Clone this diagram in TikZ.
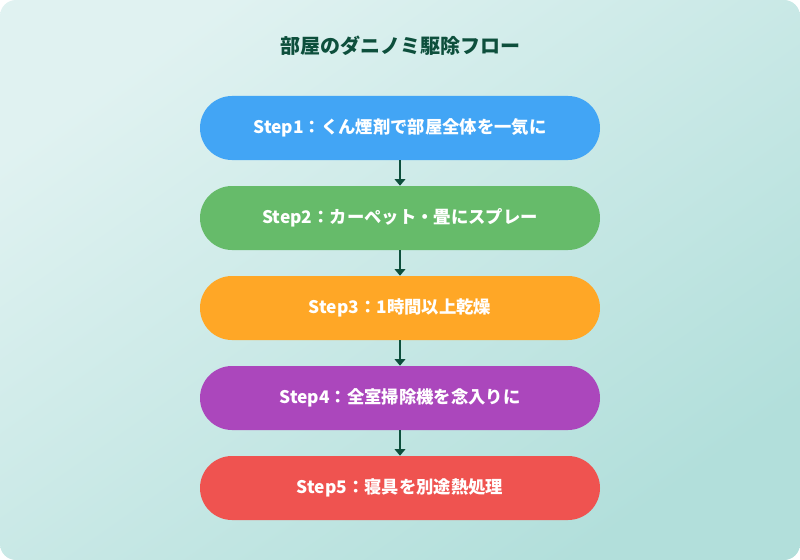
\documentclass[tikz,border=0pt]{standalone}
\usepackage{fontspec}
\setmainfont{Noto Sans CJK JP}
\usetikzlibrary{positioning,arrows.meta}
\definecolor{bgA}{HTML}{E0F2F1}
\definecolor{bgB}{HTML}{B2DFDB}
\definecolor{titlec}{HTML}{0D4F3C}
\definecolor{stepA}{HTML}{42A5F5}
\definecolor{stepB}{HTML}{66BB6A}
\definecolor{stepC}{HTML}{FFA726}
\definecolor{stepD}{HTML}{AB47BC}
\definecolor{stepE}{HTML}{EF5350}
\tikzset{
  stepbox/.style={rounded corners=24pt, minimum width=300pt, minimum height=48pt,
    text=white, font=\bfseries\fontsize{13}{15}\selectfont, inner sep=0pt},
  flow/.style={-{Triangle[width=8pt,length=5pt]}, line width=2.2pt, draw=titlec}
}

\begin{document}
\begin{tikzpicture}[x=0.75pt,y=-0.75pt]
\shade[rounded corners=12pt, left color=bgA, right color=bgB, shading angle=35]
  (0,0) rectangle (800,560);
\useasboundingbox (0,0) rectangle (800,560);
\node[font=\bfseries\fontsize{15}{18}\selectfont, text=titlec] (title) at (400,46) {部屋のダニノミ駆除フロー};

\node[stepbox, fill=stepA] (s1) at (400,128) {Step1：くん煙剤で部屋全体を一気に};
\node[stepbox, fill=stepB] (s2) at (400,218) {Step2：カーペット・畳にスプレー};
\node[stepbox, fill=stepC] (s3) at (400,308) {Step3：1時間以上乾燥};
\node[stepbox, fill=stepD] (s4) at (400,398) {Step4：全室掃除機を念入りに};
\node[stepbox, fill=stepE] (s5) at (400,488) {Step5：寝具を別途熱処理};

\foreach \a/\b in {s1/s2,s2/s3,s3/s4,s4/s5}
  \draw[flow] (\a.south) -- (\b.north);
\end{tikzpicture}
\end{document}
